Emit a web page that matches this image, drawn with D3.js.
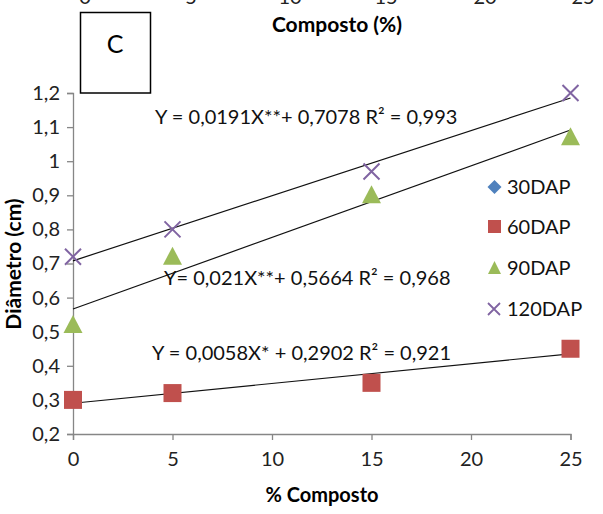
<!DOCTYPE html>
<html><head><meta charset="utf-8">
<script src="https://cdn.jsdelivr.net/npm/d3@7"></script>
<style>body{margin:0;background:#fff}svg{display:block}text{font-family:Lato,"Open Sans",sans-serif}</style>
</head><body><svg id="c" width="603" height="514"></svg>
<script>
const xValues = [0, 5, 15, 25];
const xTicks = [0, 5, 10, 15, 20, 25];
const yTicks = [0.2, 0.3, 0.4, 0.5, 0.6, 0.7, 0.8, 0.9, 1.0, 1.1, 1.2];
const seriesNames = ["30DAP", "60DAP", "90DAP", "120DAP"];
const s30 = [];
const s60 = [0.30, 0.32, 0.35, 0.45];
const s90 = [0.52, 0.72, 0.90, 1.07];
const s120 = [0.72, 0.80, 0.97, 1.20];
const fits = [
  {name:"60DAP", a:0.0058, b:0.2902, label:"Y = 0,0058X* + 0,2902 R² = 0,921"},
  {name:"90DAP", a:0.021, b:0.5664, label:"Y= 0,021X**+ 0,5664 R² = 0,968"},
  {name:"120DAP", a:0.0191, b:0.7078, label:"Y = 0,0191X**+ 0,7078 R² = 0,993"}
];
const colors = {"30DAP":"#4F81BD","60DAP":"#C0504D","90DAP":"#9BBB59","120DAP":"#8064A2"};
const shapes = {"30DAP":"diamond","60DAP":"square","90DAP":"triangle","120DAP":"cross"};

const svg = d3.select("#c");
const x = d3.scaleLinear().domain([0,25]).range([73,570.5]);
const y = d3.scaleLinear().domain([0.2,1.2]).range([434,93]);
const axisColor = "#868686";

// cut-off labels of previous panel at top
const topX = [85, 191, 290, 386, 485, 583];
svg.selectAll("text.topt").data(xTicks).enter().append("text")
  .attr("x", (d,i)=>topX[i]).attr("y",4).attr("text-anchor","middle")
  .attr("font-size",20).attr("fill","#222").text(d=>d);
svg.append("text").attr("x",337).attr("y",32).attr("text-anchor","middle")
  .attr("font-size",21).attr("font-weight","bold").text("Composto (%)");
svg.append("rect").attr("x",80.5).attr("y",12.5).attr("width",70).attr("height",80.5)
  .attr("fill","#fff").attr("stroke","#000").attr("stroke-width",1.5);
svg.append("text").attr("x",115).attr("y",53).attr("text-anchor","middle")
  .attr("font-size",25).text("C");

// axes
const gx = svg.append("g").attr("transform","translate(0,434)")
  .call(d3.axisBottom(x).tickValues(xTicks).tickSize(6).tickPadding(12).tickFormat(d=>d));
const gy = svg.append("g").attr("transform","translate(73,0)")
  .call(d3.axisLeft(y).tickValues(yTicks).tickSize(6).tickPadding(7)
    .tickFormat(d=>d3.format(".1f")(d).replace(".",",").replace(/^1,0$/,"1")));
[gx,gy].forEach(g=>{
  g.select(".domain").attr("stroke",axisColor).attr("stroke-width",1.3);
  g.selectAll(".tick line").attr("stroke",axisColor).attr("stroke-width",1.3);
  g.selectAll(".tick text").attr("font-size",20).attr("fill","#222")
   .style("font-family","Lato, 'Open Sans', sans-serif");
});
svg.append("text").attr("x",322).attr("y",502).attr("text-anchor","middle")
  .attr("font-size",20).attr("font-weight","bold").text("% Composto");
svg.append("text").attr("transform","translate(21,264) rotate(-90)").attr("text-anchor","middle")
  .attr("font-size",21).attr("font-weight","bold").text("Diâmetro (cm)");

// trendlines
svg.selectAll("line.fit").data(fits).enter().append("line")
  .attr("x1",x(0)).attr("y1",d=>y(d.b)).attr("x2",x(25)).attr("y2",d=>y(d.b+d.a*25))
  .attr("stroke","#111").attr("stroke-width",1.2);

function marker(g, shape, color, cx, cy){
  if(shape==="square") g.append("rect").attr("x",cx-9).attr("y",cy-9).attr("width",18).attr("height",18).attr("fill",color);
  else if(shape==="triangle") g.append("path").attr("d",`M${cx},${cy-10}L${cx+9.5},${cy+8}L${cx-9.5},${cy+8}Z`).attr("fill",color);
  else if(shape==="diamond") g.append("path").attr("d",`M${cx},${cy-7}L${cx+7},${cy}L${cx},${cy+7}L${cx-7},${cy}Z`).attr("fill",color);
  else if(shape==="cross") g.append("path").attr("d",`M${cx-8},${cy-8}L${cx+8},${cy+8}M${cx+8},${cy-8}L${cx-8},${cy+8}`).attr("stroke",color).attr("stroke-width",2);
}
const dataMap = {"30DAP":s30,"60DAP":s60,"90DAP":s90,"120DAP":s120};
const mg = svg.append("g");
seriesNames.forEach(n=>{
  dataMap[n].forEach((v,i)=>marker(mg, shapes[n], colors[n], x(xValues[i]), y(v)));
});

// equation labels
const eqPos = {"120DAP":[155,124],"90DAP":[164,285],"60DAP":[152,360]};
fits.forEach(f=>{
  svg.append("text").attr("x",eqPos[f.name][0]).attr("y",eqPos[f.name][1])
    .attr("font-size",20).attr("fill","#111").text(f.label);
});

// legend
const lg = svg.append("g");
const legY = [187, 227, 268, 309];
seriesNames.forEach((n,i)=>{
  const g = lg.append("g");
  if(shapes[n]==="square") g.append("rect").attr("x",488).attr("y",legY[i]-7).attr("width",13).attr("height",13).attr("fill",colors[n]);
  else if(shapes[n]==="triangle") g.append("path").attr("d",`M494.5,${legY[i]-7}L501,${legY[i]+6}L488,${legY[i]+6}Z`).attr("fill",colors[n]);
  else if(shapes[n]==="diamond") g.append("path").attr("d",`M494.5,${legY[i]-7}L501.5,${legY[i]}L494.5,${legY[i]+7}L487.5,${legY[i]}Z`).attr("fill",colors[n]);
  else g.append("path").attr("d",`M488,${legY[i]-6}L500,${legY[i]+6}M500,${legY[i]-6}L488,${legY[i]+6}`).attr("stroke",colors[n]).attr("stroke-width",1.8);
  g.append("text").attr("x",507).attr("y",legY[i]+7).attr("font-size",20).attr("fill","#111").text(n);
});
</script></body></html>
